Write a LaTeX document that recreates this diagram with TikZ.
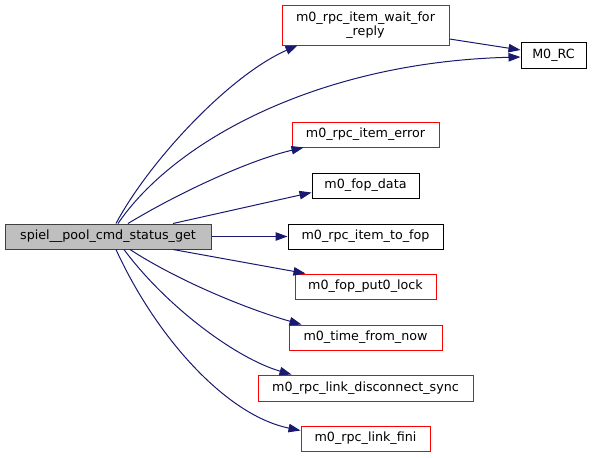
\documentclass[tikz,border=0pt]{standalone}
\usepackage{fontspec}
\setmainfont{DejaVu Sans}
\usetikzlibrary{arrows.meta}
\definecolor{edgeblue}{HTML}{191970}
\definecolor{nodered}{HTML}{FF0000}
\begin{document}
\begin{tikzpicture}[x=1pt,y=-1pt,
  box/.style={draw, line width=1pt, inner sep=0pt, font=\fontsize{12.7}{14}\selectfont, align=center, fill=white},
  redbox/.style={box, draw=nodered},
  blackbox/.style={box, draw=black},
  mainbox/.style={box, draw=black!75, fill=black!25},
  edge/.style={draw=edgeblue, line width=1pt, -{Triangle[length=12pt,width=8.5pt,fill=edgeblue]}}]
\useasboundingbox (0,0) rectangle (592,458);
\node[mainbox, minimum width=206, minimum height=25] (main) at (108,236.5) {spiel\_\_pool\_cmd\_status\_get};
\node[redbox, minimum width=167, minimum height=40] (wr) at (365.5,25) {m0\_rpc\_item\_wait\_for\\\_reply};
\node[blackbox, minimum width=65, minimum height=26] (rc) at (553.5,55) {M0\_RC};
\node[redbox, minimum width=147, minimum height=25] (ie) at (365.5,134.5) {m0\_rpc\_item\_error};
\node[blackbox, minimum width=107, minimum height=25] (fd) at (365.5,185.5) {m0\_fop\_data};
\node[blackbox, minimum width=155, minimum height=25] (itf) at (365.5,236.5) {m0\_rpc\_item\_to\_fop};
\node[redbox, minimum width=141, minimum height=25] (pl) at (365.5,286.5) {m0\_fop\_put0\_lock};
\node[redbox, minimum width=153, minimum height=25] (tn) at (365.5,337.5) {m0\_time\_from\_now};
\node[redbox, minimum width=215, minimum height=26] (ds) at (365.5,388) {m0\_rpc\_link\_disconnect\_sync};
\node[redbox, minimum width=129, minimum height=25] (lf) at (365.5,438.5) {m0\_rpc\_link\_fini};

\draw[edge] ([xshift=8]main.north) .. controls (150,160) and (230,75) .. ([xshift=-68]wr.south);
\draw[edge] ([xshift=10]main.north) .. controls (175,140) and (320,62) .. ([yshift=-2]rc.west);
\draw[edge] ([yshift=-14]wr.east) -- ([yshift=5]rc.west);
\draw[edge] ([xshift=20]main.north) .. controls (180,192) and (250,160) .. ([xshift=-62]ie.south);
\draw[edge] ([xshift=65]main.north) -- ([yshift=-7]fd.west);
\draw[edge] (main.east) -- (itf.west);
\draw[edge] ([xshift=65]main.south) -- ([xshift=-60]pl.north);
\draw[edge] ([xshift=22]main.south) .. controls (180,282) and (250,310) .. ([xshift=-64]tn.north);
\draw[edge] ([xshift=16]main.south) .. controls (165,305) and (235,358) .. ([xshift=-74]ds.north);
\draw[edge] ([xshift=8]main.south) .. controls (155,335) and (225,415) .. ([yshift=8]lf.west);
\end{tikzpicture}
\end{document}
